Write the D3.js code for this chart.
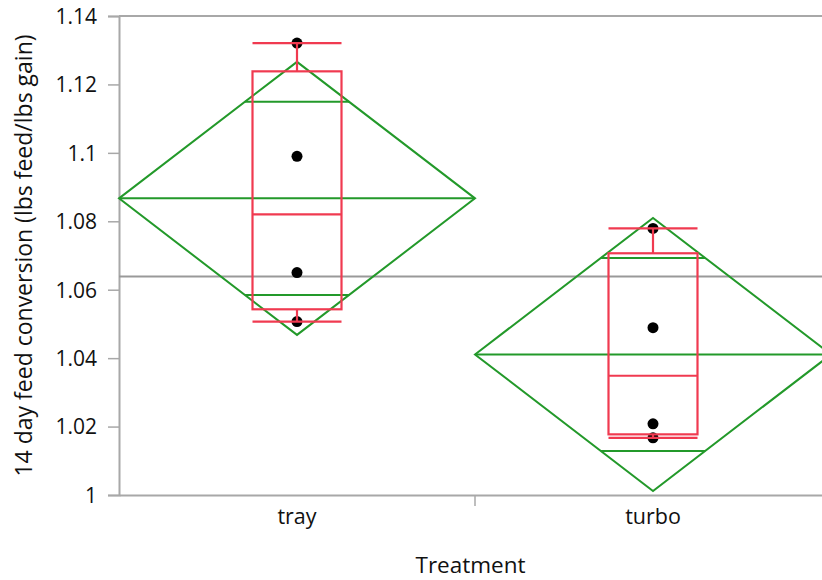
<!DOCTYPE html>
<html>
<head>
<meta charset="utf-8">
<script src="https://cdn.jsdelivr.net/npm/d3@7"></script>
<style>
  body { margin: 0; background: #fff; }
  text { font-family: "Open Sans", sans-serif; fill: #111; }
</style>
</head>
<body>
<div id="chart"></div>
<script>
"use strict";

// values
const groups = ["tray", "turbo"];
const trayValues = [1.1321, 1.0990, 1.0650, 1.0507];
const turboValues = [1.0779, 1.0489, 1.0208, 1.0167];
const ciHalf = [0.0399, 0.0399];      // half height of the means diamonds (95% CI)
const yTicks = [1, 1.02, 1.04, 1.06, 1.08, 1.1, 1.12, 1.14];
const yTitle = "14 day feed conversion (lbs feed/lbs gain)";
const xTitle = "Treatment";

function init() {
    apply();
};
window.onload = init;

// JMP style quantile, position (n+1)p
function quantile(values, p) {
    const s = values.slice().sort(d3.ascending);
    const pos = (s.length + 1) * p;
    const lo = Math.max(1, Math.min(s.length, Math.floor(pos)));
    const hi = Math.min(s.length, lo + 1);
    const frac = pos - Math.floor(pos);
    return s[lo - 1] + frac * (s[hi - 1] - s[lo - 1]);
}

function apply() {

    const margin = {top: 16, right: 0, bottom: 85, left: 119},
    width = 712,
    height = 479;

    const svg = d3.select("#chart")
                    .append("svg")
                    .attr("width", 822)
                    .attr("height", 580)
                    .append("g")
                    .attr("transform", `translate(${margin.left}, ${margin.top})`);

    const x = d3.scaleBand()
                .domain(groups)
                .range([0, width]);

    const y = d3.scaleLinear()
                .domain([1, 1.14])
                .range([height, 0]);

    const series = [trayValues, turboValues];
    const grandMean = d3.mean(d3.merge(series));

    // frame
    svg.append("line")
        .attr("x1", 0).attr("x2", width)
        .attr("y1", 0).attr("y2", 0)
        .attr("stroke", "#a8a8a8").attr("stroke-width", 2);

    // Y axis
    const yAxis = svg.append("g")
        .call(d3.axisLeft(y)
            .tickValues(yTicks)
            .tickSize(11)
            .tickPadding(11)
            .tickFormat(d => String(+d.toFixed(2))));
    yAxis.select(".domain").attr("stroke", "#a8a8a8").attr("stroke-width", 2);
    yAxis.selectAll(".tick line").attr("stroke", "#a8a8a8").attr("stroke-width", 1.5);
    yAxis.selectAll("text")
        .style("font-family", "'Open Sans', sans-serif")
        .style("font-size", "21px")
        .attr("fill", "#111")
        .attr("dy", "0.35em");

    // X axis
    const xAxis = svg.append("g")
        .attr("transform", `translate(0, ${height})`)
        .call(d3.axisBottom(x).tickSize(0).tickPadding(14));
    xAxis.select(".domain").attr("stroke", "#a8a8a8").attr("stroke-width", 2);
    xAxis.selectAll("text")
        .style("font-family", "'Open Sans', sans-serif")
        .style("font-size", "21.5px")
        .attr("fill", "#111");
    // boundary tick between the groups
    xAxis.append("line")
        .attr("x1", x("turbo")).attr("x2", x("turbo"))
        .attr("y1", 0).attr("y2", 11)
        .attr("stroke", "#a8a8a8").attr("stroke-width", 1.5);

    // axis titles
    svg.append("text")
        .attr("transform", `translate(${-87}, ${height / 2}) rotate(-90)`)
        .attr("text-anchor", "middle")
        .style("font-size", "23px")
        .text(yTitle);

    svg.append("text")
        .attr("x", (822 - margin.left) / 2)
        .attr("y", height + 78)
        .attr("text-anchor", "middle")
        .style("font-size", "22.5px")
        .text(xTitle);

    // grand mean
    svg.append("line")
        .attr("x1", 0).attr("x2", width)
        .attr("y1", y(grandMean)).attr("y2", y(grandMean))
        .attr("stroke", "#999").attr("stroke-width", 2);

    const green = "#23992a", red = "#f03a50";

    // means diamonds
    const diamonds = svg.append("g")
        .selectAll("g")
        .data(groups)
        .enter()
        .append("g");

    diamonds.each(function(g, i) {
        const sel = d3.select(this);
        const m = d3.mean(series[i]);
        const x0 = x(g), x1 = x(g) + x.bandwidth(), xc = x(g) + x.bandwidth() / 2;
        const hw = x.bandwidth() / 2;
        sel.append("path")
            .attr("d", d3.line()([[x0, y(m)], [xc, y(m + ciHalf[i])], [x1, y(m)], [xc, y(m - ciHalf[i])]]) + "Z")
            .attr("fill", "none").attr("stroke", green).attr("stroke-width", 2);
        sel.append("line")
            .attr("x1", x0).attr("x2", x1)
            .attr("y1", y(m)).attr("y2", y(m))
            .attr("stroke", green).attr("stroke-width", 2);
        // overlap marks
        const off = ciHalf[i] / Math.SQRT2;
        const ow = hw * (1 - 1 / Math.SQRT2);
        [m + off, m - off].forEach(v => {
            sel.append("line")
                .attr("x1", xc - ow).attr("x2", xc + ow)
                .attr("y1", y(v)).attr("y2", y(v))
                .attr("stroke", green).attr("stroke-width", 2);
        });
    });

    // points
    svg.append("g")
        .selectAll("g")
        .data(groups)
        .enter()
        .append("g")
        .selectAll("circle")
        .data((g, i) => series[i].map(v => ({group: g, value: v})))
        .enter().append("circle")
            .attr("cx", d => x(d.group) + x.bandwidth() / 2)
            .attr("cy", d => y(d.value))
            .attr("r", 5.5)
            .attr("fill", "#000");

    // box plots
    const boxW = x.bandwidth() * 0.25;
    groups.forEach(function(g, i) {
        const v = series[i];
        const q1 = quantile(v, 0.25), med = quantile(v, 0.5), q3 = quantile(v, 0.75);
        const lo = d3.min(v), hi = d3.max(v);
        const xc = x(g) + x.bandwidth() / 2;
        const b = svg.append("g")
            .attr("fill", "none").attr("stroke", red).attr("stroke-width", 2.2);
        b.append("rect")
            .attr("x", xc - boxW / 2).attr("width", boxW)
            .attr("y", y(q3)).attr("height", y(q1) - y(q3));
        b.append("line")
            .attr("x1", xc - boxW / 2).attr("x2", xc + boxW / 2)
            .attr("y1", y(med)).attr("y2", y(med));
        // whiskers with caps
        [[hi, q3], [lo, q1]].forEach(([w, q]) => {
            b.append("line")
                .attr("x1", xc).attr("x2", xc)
                .attr("y1", y(w)).attr("y2", y(q));
            b.append("line")
                .attr("x1", xc - boxW / 2).attr("x2", xc + boxW / 2)
                .attr("y1", y(w)).attr("y2", y(w));
        });
    });
}
</script>
</body>
</html>
